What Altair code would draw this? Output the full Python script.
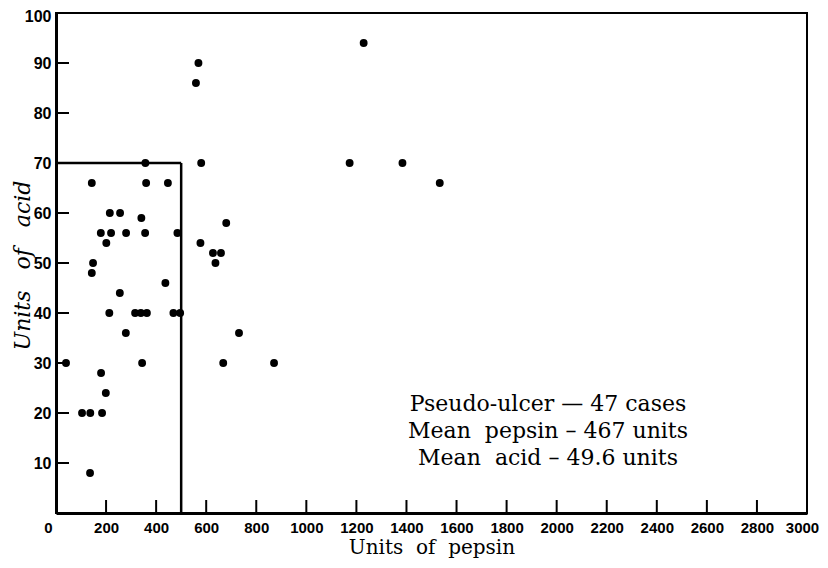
import altair as alt
import pandas as pd

# Units of pepsin / units of acid for the 47 pseudo-ulcer cases
pepsin = [143, 357, 360, 447, 215, 256, 341, 179, 220, 280, 356, 485, 201, 148, 143, 437,
          255, 213, 316, 339, 363, 469, 496, 279, 40, 344, 180, 199, 104, 137, 184, 136,
          580, 680, 577, 627, 659, 637, 731, 559, 569, 668, 871, 1173, 1229, 1384, 1533]
acid = [66, 70, 66, 66, 60, 60, 59, 56, 56, 56, 56, 56, 54, 50, 48, 46,
        44, 40, 40, 40, 40, 40, 40, 36, 30, 30, 28, 24, 20, 20, 20, 8,
        70, 58, 54, 52, 52, 50, 36, 86, 90, 30, 30, 70, 94, 70, 66]

x_labels = [0, 200, 400, 600, 800, 1000, 1200, 1400, 1600, 1800, 2000, 2200, 2400, 2600, 2800, 3000]
x_ticks = [200, 400, 600, 800, 1000, 1200, 1400, 1600, 1800, 2000, 2200, 2400, 2600, 2800]
y_labels = [10, 20, 30, 40, 50, 60, 70, 80, 90, 100]
y_ticks = [10, 20, 30, 40, 50, 60, 80, 90]

# "normal" limits box: 0-500 units pepsin, 0-70 units acid
box_pepsin = [0, 500]
box_acid = [0, 70]

NB = "\u00a0"
note_lines = ["Pseudo-ulcer \u2014 47 cases",
              "Mean" + NB * 2 + "pepsin \u2013 467 units",
              "Mean" + NB * 2 + "acid \u2013 49.6 units"]

df = pd.DataFrame({"pepsin": pepsin, "acid": acid})

LABEL_FONT = "Liberation Sans"
TITLE_FONT = "DejaVu Serif"

xscale = alt.Scale(domain=[0, 3000], nice=False, zero=True)
yscale = alt.Scale(domain=[0, 100], nice=False, zero=True)

xaxis = alt.Axis(values=x_labels, format="d", labelOverlap=False, labelFlush=False,
                 labelOffset={"condition": [{"test": "datum.value == 0", "value": -8},
                                            {"test": "datum.value == 3000", "value": -5}],
                              "value": 0},
                 title="Units" + NB * 2 + "of" + NB * 2 + "pepsin", ticks=False, grid=False,
                 domainWidth=3, domainColor="black", labelPadding=7,
                 labelFont=LABEL_FONT, labelFontWeight="bold", labelFontSize=15, labelColor="black",
                 titleFont=TITLE_FONT, titleFontSize=20, titleFontWeight="normal", titleColor="black",
                 titlePadding=2)
yaxis = alt.Axis(values=y_labels, format="d", labelOverlap=False, labelFlush=False,
                 labelBaseline=alt.condition("datum.value == 100", alt.value("top"), alt.value("middle")),
                 labelOffset=alt.condition("datum.value == 100", alt.value(-5), alt.value(0)),
                 title="Units" + NB * 3 + "of" + NB * 3 + "acid", ticks=False, grid=False,
                 domainWidth=3, domainColor="black", labelPadding=5,
                 labelFont=LABEL_FONT, labelFontWeight="bold", labelFontSize=16, labelColor="black",
                 titleFont=TITLE_FONT, titleFontSize=22, titleFontWeight="normal", titleFontStyle="italic",
                 titleColor="black", titleAngle=-90, titleX=-27, titleY=252, titleBaseline="alphabetic",
                 titleAlign="center")

points = alt.Chart(df).mark_circle(size=62, color="black", opacity=1).encode(
    x=alt.X("pepsin:Q", scale=xscale, axis=xaxis),
    y=alt.Y("acid:Q", scale=yscale, axis=yaxis),
)

xt = alt.Chart(pd.DataFrame({"pepsin": x_ticks})).mark_rule(color="black", strokeWidth=2).encode(
    x=alt.X("pepsin:Q"),
    y=alt.value(500), y2=alt.value(487),
)
yt = alt.Chart(pd.DataFrame({"acid": y_ticks})).mark_rule(color="black", strokeWidth=2).encode(
    y=alt.Y("acid:Q"),
    x=alt.value(0), x2=alt.value(13),
)

box_h = alt.Chart(pd.DataFrame({"pepsin": [box_pepsin[0]], "pepsin2": [box_pepsin[1]],
                                "acid": [box_acid[1]]})).mark_rule(color="black", strokeWidth=2.5).encode(
    x=alt.X("pepsin:Q"), x2="pepsin2:Q",
    y=alt.Y("acid:Q"),
)
box_v = alt.Chart(pd.DataFrame({"pepsin": [box_pepsin[1]], "acid": [box_acid[0]],
                                "acid2": [box_acid[1]]})).mark_rule(color="black", strokeWidth=2.5).encode(
    x=alt.X("pepsin:Q"),
    y=alt.Y("acid:Q"), y2="acid2:Q",
)

note = alt.Chart(pd.DataFrame({"t": ["\n".join(note_lines)]})).mark_text(
    lineBreak="\n", lineHeight=27, font=TITLE_FONT, fontSize=22, align="center",
    baseline="middle", color="black"
).encode(text="t:N", x=alt.value(492), y=alt.value(391))

chart = alt.layer(points, box_h, box_v, xt, yt, note).properties(
    width=751, height=500,
    autosize=alt.AutoSizeParams(type="none"),
    padding={"left": 48, "top": 5, "right": 13, "bottom": 47},
    background="white",
).configure_view(stroke="black", strokeWidth=2)

chart.save("out.html", embed_options={"renderer": "svg", "actions": False})
